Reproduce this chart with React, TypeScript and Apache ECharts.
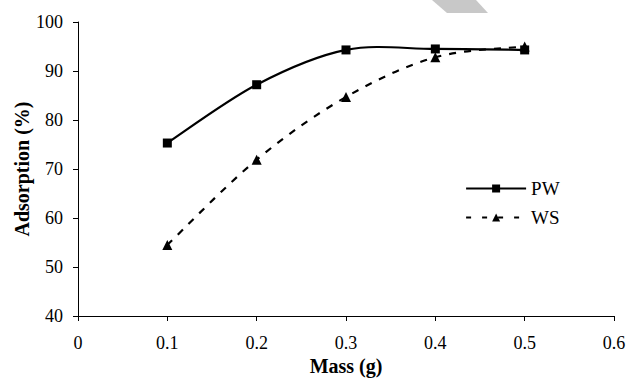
import React, { useEffect, useRef } from "react";
import * as echarts from "echarts";

const massValues = [0.1, 0.2, 0.3, 0.4, 0.5];
const pwValues = [75.3, 87.2, 94.3, 94.5, 94.3];
const wsValues = [54.5, 71.9, 84.7, 92.8, 95.0];
const seriesNames = ["PW", "WS"];

const FONT = "'Liberation Serif', 'Times New Roman', serif";
const LINE_W = 2.2;
const DASH = [7, 8];

function curveSeries(name: string, vals: number[], dash: number[] | null) {
  return {
    name,
    type: "custom",
    data: massValues.map((m, i) => [m, vals[i]]),
    z: 1,
    silent: true,
    renderItem: (params: any, api: any) => {
      if (params.dataIndex !== 0) return { type: "group", children: [] };
      const pts = massValues.map((m, i) => api.coord([m, vals[i]]));
      const n = pts.length;
      const t = 1 / 6;
      let d = `M${pts[0][0]},${pts[0][1]}`;
      for (let i = 0; i < n - 1; i++) {
        const p0 = pts[Math.max(i - 1, 0)];
        const p1 = pts[i];
        const p2 = pts[i + 1];
        const p3 = pts[Math.min(i + 2, n - 1)];
        const c1x = p1[0] + (p2[0] - p0[0]) * t;
        const c1y = p1[1] + (p2[1] - p0[1]) * t;
        const c2x = p2[0] - (p3[0] - p1[0]) * t;
        const c2y = p2[1] - (p3[1] - p1[1]) * t;
        d += ` C${c1x},${c1y} ${c2x},${c2y} ${p2[0]},${p2[1]}`;
      }
      return {
        type: "path",
        shape: { pathData: d },
        style: {
          fill: null,
          stroke: "#000",
          lineWidth: LINE_W,
          lineDash: dash || undefined,
        },
      };
    },
  };
}

export default function App() {
  const ref = useRef<HTMLDivElement>(null);
  useEffect(() => {
    if (!ref.current) return;
    const chart = echarts.init(ref.current, undefined, { renderer: "svg" });
    const toPairs = (vals: number[]) => massValues.map((m, i) => [m, vals[i]]);
    chart.setOption({
      animation: false,
      backgroundColor: "#ffffff",
      textStyle: { fontFamily: FONT, color: "#000" },
      grid: { left: 78, right: 15, top: 22, bottom: 62, containLabel: false, outerBoundsMode: "none" },
      legend: {
        orient: "vertical",
        left: 460,
        top: 174,
        itemWidth: 60,
        itemHeight: 10,
        itemGap: 10,
        textStyle: { fontFamily: FONT, fontSize: 19, color: "#000" },
        data: [
          { name: seriesNames[0], lineStyle: { color: "#000", width: LINE_W, opacity: 1, type: "solid" } },
          { name: seriesNames[1], lineStyle: { color: "#000", width: LINE_W, opacity: 1, type: [5, 11] } },
        ],
      },
      graphic: [
        {
          type: "polygon",
          shape: { points: [[432, 0], [476, 0], [488, 13], [447, 13]] },
          style: { fill: "#c8c8c8" },
          silent: true,
        },
      ],
      xAxis: {
        type: "value",
        min: 0,
        max: 0.6,
        interval: 0.1,
        name: "Mass (g)",
        nameLocation: "middle",
        nameMoveOverlap: false,
        nameGap: 40,
        nameTextStyle: { fontFamily: FONT, fontSize: 20, fontWeight: "bold", color: "#000" },
        axisLine: { show: true, lineStyle: { color: "#000", width: 1 } },
        axisTick: { show: true, length: 5, inside: false, lineStyle: { color: "#000" } },
        axisLabel: {
          fontFamily: FONT,
          fontSize: 18,
          color: "#000",
          margin: 18,
          formatter: (v: number) => (Math.round(v * 10) / 10).toString(),
        },
        splitLine: { show: false },
      },
      yAxis: {
        type: "value",
        min: 40,
        max: 100,
        interval: 10,
        name: "Adsorption (%)",
        nameLocation: "middle",
        nameMoveOverlap: false,
        nameGap: 46,
        nameRotate: 90,
        nameTextStyle: { fontFamily: FONT, fontSize: 20, fontWeight: "bold", color: "#000" },
        axisLine: { show: true, lineStyle: { color: "#000", width: 1 } },
        axisTick: { show: true, length: 5, lineStyle: { color: "#000" } },
        axisLabel: { fontFamily: FONT, fontSize: 18, color: "#000", margin: 15 },
        splitLine: { show: false },
      },
      series: [
        curveSeries("PW-curve", pwValues, null),
        curveSeries("WS-curve", wsValues, DASH),
        {
          name: seriesNames[0],
          type: "line",
          data: toPairs(pwValues),
          z: 3,
          symbol: "rect",
          symbolSize: 9,
          itemStyle: { color: "#000" },
          lineStyle: { color: "#000", width: LINE_W, opacity: 0 },
        },
        {
          name: seriesNames[1],
          type: "line",
          data: toPairs(wsValues),
          z: 3,
          symbol: "triangle",
          symbolSize: 10,
          itemStyle: { color: "#000" },
          lineStyle: { color: "#000", width: LINE_W, opacity: 0, type: DASH },
        },
      ],
    });
    return () => chart.dispose();
  }, []);
  return <div ref={ref} style={{ width: 629, height: 378, position: "absolute", left: 0, top: 0 }} />;
}
